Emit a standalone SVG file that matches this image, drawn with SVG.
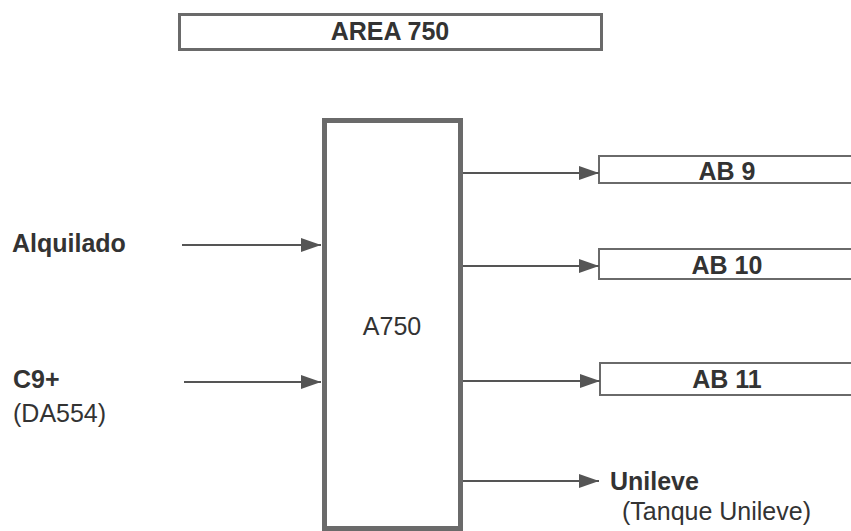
<svg xmlns="http://www.w3.org/2000/svg" width="851" height="531" viewBox="0 0 851 531">
<style>
.box{fill:#fff;stroke:#6a6a6a}
.t{font-family:"Liberation Sans",Arial,sans-serif;font-size:25px;fill:#333}
.b{font-weight:bold}
.c{stroke:#555;stroke-width:2;fill:none}
</style>
<defs>
<marker id="ah" viewBox="0 0 20 14" refX="20" refY="7" markerWidth="20" markerHeight="14" markerUnits="userSpaceOnUse" orient="auto">
<path d="M0,0 L20,7 L0,14 Z" fill="#555"/>
</marker>
</defs>
<rect width="851" height="531" fill="#fff"/>
<g id="area750">
<rect class="box" x="179.5" y="14.5" width="422" height="35" stroke-width="3"/>
<text class="t b" x="390" y="40" text-anchor="middle">AREA 750</text>
</g>
<g id="a750">
<rect class="box" x="324.5" y="120.5" width="136" height="408" stroke-width="5"/>
<text class="t" x="392" y="335" text-anchor="middle">A750</text>
</g>
<g id="ab9">
<rect class="box" x="599" y="156" width="260" height="27" stroke-width="2"/>
<text class="t b" x="727" y="180" text-anchor="middle">AB 9</text>
</g>
<g id="ab10">
<rect class="box" x="599" y="249" width="260" height="30" stroke-width="2"/>
<text class="t b" x="727" y="274" text-anchor="middle">AB 10</text>
</g>
<g id="ab11">
<rect class="box" x="600" y="363" width="260" height="32" stroke-width="2"/>
<text class="t b" x="727" y="388" text-anchor="middle">AB 11</text>
</g>
<g id="alquilado">
<text class="t b" x="12" y="252">Alquilado</text>
</g>
<g id="c9">
<text class="t b" x="13" y="388">C9+</text>
<text class="t" x="13" y="422">(DA554)</text>
</g>
<g id="unileve">
<text class="t b" x="610" y="490">Unileve</text>
<text class="t" x="622" y="520">(Tanque Unileve)</text>
</g>
<g id="connectors">
<line class="c" x1="182" y1="245" x2="321" y2="245" marker-end="url(#ah)"/>
<line class="c" x1="184" y1="382" x2="321" y2="382" marker-end="url(#ah)"/>
<line class="c" x1="463" y1="173" x2="599" y2="173" marker-end="url(#ah)"/>
<line class="c" x1="463" y1="266" x2="599" y2="266" marker-end="url(#ah)"/>
<line class="c" x1="463" y1="381" x2="600" y2="381" marker-end="url(#ah)"/>
<line class="c" x1="463" y1="481" x2="599" y2="481" marker-end="url(#ah)"/>
</g>
</svg>
